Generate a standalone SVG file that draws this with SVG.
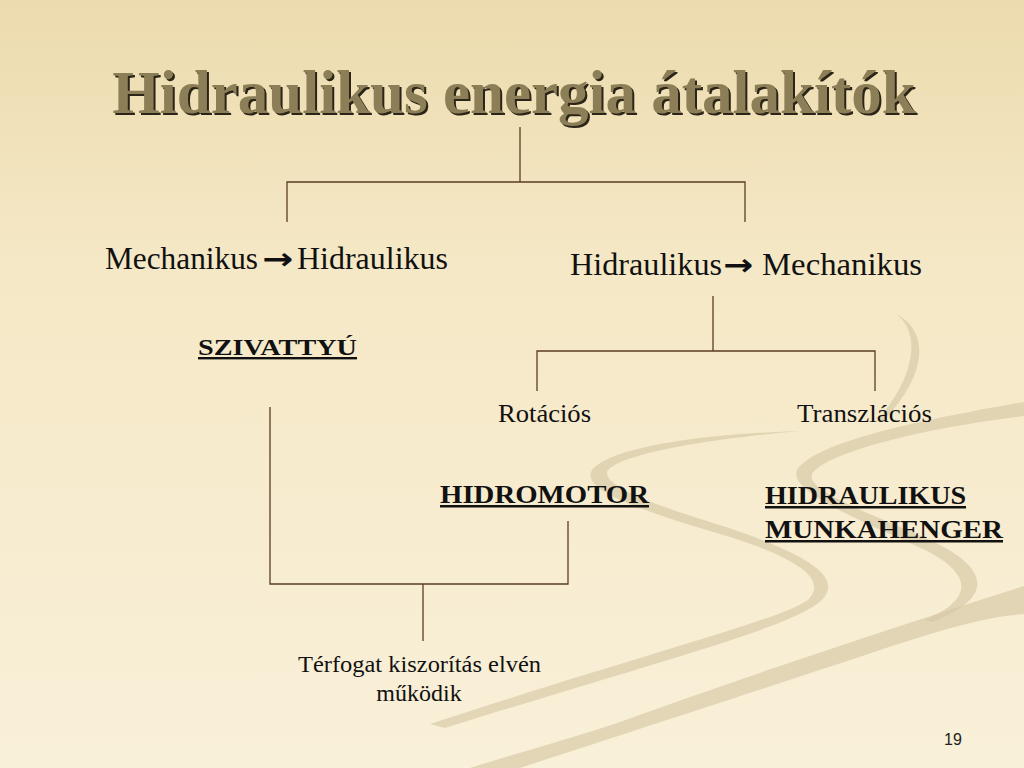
<svg xmlns="http://www.w3.org/2000/svg" width="1024" height="768" viewBox="0 0 1024 768">
<defs>
<linearGradient id="bg" x1="0" y1="0" x2="0" y2="1">
<stop offset="0" stop-color="#ecdbae"/>
<stop offset="0.35" stop-color="#f5e8c6"/>
<stop offset="1" stop-color="#f9f0d9"/>
</linearGradient>
<style>
.ln{stroke:#5a3d22;stroke-width:1.3;fill:none}
.t{font-family:"Liberation Serif","Times New Roman",serif;fill:#111}
.b{font-weight:bold;text-decoration:underline}
.ar{font-family:"DejaVu Sans",sans-serif;font-weight:bold}
.sw{fill:#d6c8a4;opacity:0.65}
.ttl{font-family:"Liberation Serif","Times New Roman",serif;font-weight:bold;font-size:61px}
</style>
</defs>
<rect width="1024" height="768" fill="url(#bg)"/>
<g id="background-swirls">
<path class="sw" d="M800 431 C700 434,612 447,592 470 C580 490,640 510,720 534 C800 558,828 580,808 600 C780 620,650 652,430 724 L445 728 C655 662,792 628,822 600 C845 576,802 553,732 529 C652 504,606 488,607 472 C616 455,700 440,800 431 Z"/>
<path class="sw" d="M1024 402 C920 420,815 442,797 470 C788 492,860 520,925 550 C975 575,972 600,925 620 L932 622 C990 600,992 572,940 545 C878 515,806 493,812 474 C826 452,925 428,1024 416 Z"/>
<path class="sw" d="M1024 586 C900 625,750 675,620 722 C560 742,510 755,470 768 L520 768 C600 742,760 690,880 650 C950 627,990 616,1024 614 Z"/>
<path class="sw" d="M896 314 C918 330,920 370,878 420 L884 420 C930 372,928 330,896 314 Z"/>
</g>
<g id="title">
<text class="ttl" x="516" y="115" text-anchor="middle" fill="#2b2418">Hidraulikus energia átalakítók</text>
<text class="ttl" x="514" y="113" text-anchor="middle" fill="#8c7e56">Hidraulikus energia átalakítók</text>
</g>
<g id="connectors">
<path class="ln" d="M520 127 V182 M287 222 V182 H745 V222"/>
<path class="ln" d="M713 296 V351 M537 391 V351 H875 V391"/>
<path class="ln" d="M270 407 V584 H568 V521 M423 584 V641"/>
</g>
<g id="node-mech-hidr">
<text class="t" y="269" font-size="32"><tspan x="105" textLength="153" lengthAdjust="spacingAndGlyphs">Mechanikus</tspan><tspan class="ar" x="262" font-size="30" textLength="31" lengthAdjust="spacingAndGlyphs">→</tspan><tspan x="297" textLength="151" lengthAdjust="spacingAndGlyphs">Hidraulikus</tspan></text>
</g>
<g id="node-hidr-mech">
<text class="t" y="275" font-size="32"><tspan x="570" textLength="152" lengthAdjust="spacingAndGlyphs">Hidraulikus</tspan><tspan class="ar" x="723" font-size="30" textLength="30" lengthAdjust="spacingAndGlyphs">→</tspan><tspan x="762" textLength="160" lengthAdjust="spacingAndGlyphs">Mechanikus</tspan></text>
</g>
<g id="node-szivattyu">
<text class="t b" x="198" y="355" font-size="24" textLength="159" lengthAdjust="spacingAndGlyphs">SZIVATTYÚ</text>
</g>
<g id="node-rotacios">
<text class="t" x="498" y="422" font-size="25" textLength="93" lengthAdjust="spacingAndGlyphs">Rotációs</text>
</g>
<g id="node-transzlacios">
<text class="t" x="797" y="422" font-size="25" textLength="135" lengthAdjust="spacingAndGlyphs">Transzlációs</text>
</g>
<g id="node-hidromotor">
<text class="t b" x="440" y="503" font-size="25" textLength="209" lengthAdjust="spacingAndGlyphs">HIDROMOTOR</text>
</g>
<g id="node-munkahenger">
<text class="t b" x="765" y="504" font-size="25" textLength="201" lengthAdjust="spacingAndGlyphs">HIDRAULIKUS</text>
<text class="t b" x="765" y="538" font-size="25" textLength="238" lengthAdjust="spacingAndGlyphs">MUNKAHENGER</text>
</g>
<g id="node-terfogat">
<text class="t" x="298" y="672" font-size="24" textLength="243" lengthAdjust="spacingAndGlyphs">Térfogat kiszorítás elvén</text>
<text class="t" x="419" y="701" font-size="24" text-anchor="middle">működik</text>
</g>
<text x="953" y="745" font-family="Liberation Sans, Arial, sans-serif" font-size="16" fill="#222" text-anchor="middle">19</text>
</svg>
